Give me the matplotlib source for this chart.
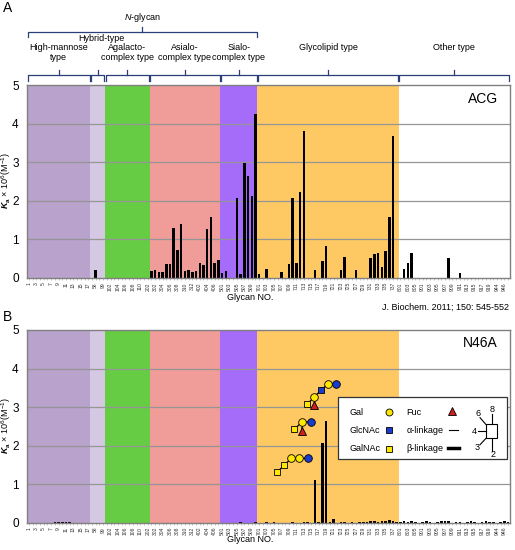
import numpy as np
import matplotlib
matplotlib.use('Agg')
import matplotlib.pyplot as plt
from matplotlib import transforms
from matplotlib.patches import Rectangle

plt.rcParams['font.family'] = ['Liberation Sans', 'DejaVu Sans']
plt.rcParams['mathtext.fontset'] = 'custom'
plt.rcParams['mathtext.rm'] = 'Liberation Sans'
plt.rcParams['mathtext.it'] = 'Liberation Sans:italic'
plt.rcParams['mathtext.bf'] = 'Liberation Sans:bold'
plt.rcParams['mathtext.bfit'] = 'Liberation Sans:bold:italic'

W, H = 515, 550

# glycan numbers per group
hm_ids = list(range(1, 18))
hybrid_ids = [57, 58, 98, 99]
agal_ids = list(range(101, 111)) + [201, 202]
asialo_ids = list(range(301, 313)) + list(range(401, 408))
sialo_ids = list(range(501, 511))
glyco_ids = list(range(701, 739))
other_ids = list(range(801, 807)) + list(range(901, 921)) + list(range(944, 948))

REGION_NAMES = ['High-mannose\ntype', 'Hybrid-type', 'Agalacto-\ncomplex type',
                'Asialo-\ncomplex type', 'Sialo-\ncomplex type', 'Glycolipid type', 'Other type']
REGION_COLORS = ['#b9a2cb', '#d5c8e2', '#66cc44', '#f09c98', '#a46cf8', '#fec963', '#ffffff']

# Ka x 10^6 (M^-1), ACG
acg_hm = [0] * 17
acg_hybrid = [0, 0.20, 0, 0]
acg_agal = [0] * 12
acg_asialo = [0.18, 0.20, 0.16, 0.16, 0.36, 0.36, 1.30, 0.73, 1.39, 0.17,
              0.20, 0.16, 0.17, 0.39, 0.33, 1.28, 1.58, 0.39, 0.46]
acg_sialo = [0.14, 0.17, 0, 0, 2.08, 0.10, 2.98, 2.65, 2.13, 4.26]
acg_glyco = [0.10, 0, 0.23, 0, 0, 0, 0.16, 0, 0.35, 2.08,
             0.40, 2.22, 3.80, 0, 0, 0.20, 0, 0.45, 0.82, 0,
             0, 0, 0.20, 0.54, 0, 0, 0.22, 0, 0, 0,
             0.52, 0.62, 0.66, 0.28, 0.70, 1.59, 3.67, 0]
acg_other = [0, 0.23, 0.38, 0.66, 0, 0, 0, 0, 0, 0,
             0, 0, 0, 0.51, 0, 0, 0.12, 0, 0, 0,
             0, 0, 0, 0, 0, 0, 0, 0, 0, 0]

# N46A
n46_hm = [0, 0, 0, 0, 0, 0, 0, 0.03, 0.03, 0.02, 0.03, 0.02, 0, 0, 0, 0, 0]
n46_hybrid = [0, 0, 0, 0]
n46_agal = [0] * 12
n46_asialo = [0] * 19
n46_sialo = [0, 0, 0, 0, 0, 0.02, 0, 0, 0, 0.02]
n46_glyco = [0, 0, 0.03, 0, 0.03, 0, 0, 0, 0, 0.03,
             0, 0, 0.03, 0.03, 0, 1.10, 0.03, 2.06, 2.63, 0.03,
             0.10, 0, 0.03, 0.03, 0, 0.03, 0, 0.03, 0.03, 0.03,
             0.04, 0.04, 0.03, 0.05, 0.04, 0.06, 0.04, 0.03]
n46_other = [0.03, 0.04, 0.03, 0.05, 0.03, 0, 0.03, 0.04, 0.03, 0,
             0.03, 0.04, 0.05, 0.04, 0, 0.03, 0.03, 0, 0.03, 0.04,
             0.03, 0, 0.03, 0.04, 0.03, 0.03, 0, 0.03, 0.04, 0.03]

groups_ids = [hm_ids, hybrid_ids, agal_ids, asialo_ids, sialo_ids, glyco_ids, other_ids]
glycan_ids = sum(groups_ids, [])
acg = np.array(acg_hm + acg_hybrid + acg_agal + acg_asialo + acg_sialo + acg_glyco + acg_other)
n46a = np.array(n46_hm + n46_hybrid + n46_agal + n46_asialo + n46_sialo + n46_glyco + n46_other)
N = len(glycan_ids)
bounds = np.concatenate([[0], np.cumsum([len(g) for g in groups_ids])]) - 0.5

fig = plt.figure(figsize=(W / 100, H / 100), dpi=100)


def fy(py):
    return 1 - py / H


def fx(px):
    return px / W


def draw_panel(ax, values, name):
    for i in range(len(REGION_COLORS)):
        ax.axvspan(bounds[i], bounds[i + 1], color=REGION_COLORS[i], lw=0, zorder=0)
    for yv in [1, 2, 3, 4]:
        ax.axhline(yv, color='#959595', lw=0.9, zorder=1)
    x = np.arange(N)
    ax.bar(x, values, width=0.68, color='black', zorder=2)
    ax.set_xlim(-0.5, N - 0.5)
    ax.set_ylim(0, 5)
    ax.set_yticks(range(6))
    ax.tick_params(axis='y', length=0, labelsize=8.5, pad=6)
    ax.set_xticks(x)
    ax.set_xticklabels([str(g) if i % 2 == 0 else '' for i, g in enumerate(glycan_ids)],
                       rotation=90, fontsize=3.6, color='#333333')
    ax.tick_params(axis='x', length=1.5, width=0.4, color='#999999', pad=1.5)
    for s in ax.spines.values():
        s.set_color('#808080')
        s.set_linewidth(1.0)
    ax.text(0.975, 0.93, name, transform=ax.transAxes, ha='right', va='center', fontsize=10)


ax_a = fig.add_axes([fx(27), fy(278), fx(483), (278 - 85) / H])
ax_b = fig.add_axes([fx(27), fy(522.7), fx(483), (522.7 - 330) / H])
draw_panel(ax_a, acg, 'ACG')
draw_panel(ax_b, n46a, 'N46A')

ylab = r'$\mathbfit{K}_\mathbf{a}$ × 10$^{6}$(M$^{-1}$)'
fig.text(fx(6), fy(181), ylab, rotation=90, ha='center', va='center', fontsize=6.5)
fig.text(fx(6), fy(426), ylab, rotation=90, ha='center', va='center', fontsize=6.5)
fig.text(fx(250), fy(298), 'Glycan NO.', ha='center', va='center', fontsize=6.5)
fig.text(fx(250), fy(539), 'Glycan NO.', ha='center', va='center', fontsize=6.5)
fig.text(fx(445), fy(307), 'J. Biochem. 2011; 150: 545-552', ha='center', va='center', fontsize=6.5)
fig.text(fx(8), fy(8), 'A', ha='center', va='center', fontsize=10)
fig.text(fx(8), fy(317), 'B', ha='center', va='center', fontsize=10)

# brackets over panel A
bt = transforms.blended_transform_factory(ax_a.transData, fig.transFigure)
bc = '#2a3f7a'


def bracket(x0, x1, y_line, y_end, y_tick, xt=None):
    xm = (x0 + x1) / 2 if xt is None else xt
    ax_a.plot([x0, x0, x1, x1], [fy(y_end), fy(y_line), fy(y_line), fy(y_end)],
              color=bc, lw=0.9, transform=bt, clip_on=False)
    ax_a.plot([xm, xm], [fy(y_line), fy(y_tick)], color=bc, lw=0.9, transform=bt, clip_on=False)


for i, name in enumerate(REGION_NAMES):
    x0, x1 = bounds[i] + 0.15, bounds[i + 1] - 0.15
    bracket(x0, x1, 75, 81, 69.5)
    xm = (x0 + x1) / 2
    if name == 'Hybrid-type':
        ax_a.text(xm + 1, fy(34), name, transform=bt, ha='center', va='top', fontsize=6.5)
    else:
        ax_a.text(xm, fy(43), name, transform=bt, ha='center', va='top', fontsize=6.5,
                  linespacing=1.2)
bracket(bounds[0] + 0.15, bounds[5] - 0.15, 32, 37, 27)
ax_a.text((bounds[0] + bounds[5]) / 2, fy(17), r'$N$-glycan', transform=bt,
          ha='center', va='center', fontsize=6.5)

# glycan structure icons in panel B (axes fraction)
tb = ax_b.transAxes
YEL, BLU, RED = '#ffe800', '#1a3ccc', '#cc1f1f'
icons = [
    [('s', YEL, 0.517, 0.261), ('s', YEL, 0.533, 0.299), ('o', YEL, 0.547, 0.334),
     ('o', YEL, 0.564, 0.334), ('o', BLU, 0.582, 0.334)],
    [('s', YEL, 0.553, 0.485), ('o', YEL, 0.570, 0.523), ('o', BLU, 0.587, 0.523)],
    [('s', YEL, 0.580, 0.615), ('o', YEL, 0.595, 0.653), ('s', BLU, 0.609, 0.688),
     ('o', YEL, 0.624, 0.722), ('o', BLU, 0.640, 0.722)],
]
fucs = [None, (1, 0.569, 0.477), (1, 0.595, 0.610)]
for chain, fuc in zip(icons, fucs):
    xs = [c[2] for c in chain]
    ys = [c[3] for c in chain]
    ax_b.plot(xs, ys, color='black', lw=0.9, transform=tb, zorder=5, clip_on=False)
    if fuc is not None:
        j, tx, ty = fuc
        ax_b.plot([chain[j][2], tx], [chain[j][3], ty], color='black', lw=0.9, transform=tb, zorder=5)
        ax_b.plot(tx, ty, marker='^', ms=5.5, mfc=RED, mec='black', mew=0.6, transform=tb, zorder=6)
    for m, c, x, y in chain:
        ax_b.plot(x, y, marker=m, ms=5 if m == 's' else 5.5, mfc=c, mec='black', mew=0.6,
                  transform=tb, zorder=6)

# legend box
ax_b.add_patch(Rectangle((0.644, 0.330), 0.350, 0.321, transform=tb, facecolor='white',
                         edgecolor='#333333', lw=0.9, zorder=7))
leg_rows = [('Gal', 'o', YEL, 'Fuc', 0.574), ('GlcNAc', 's', BLU, 'α-linkage', 0.480),
            ('GalNAc', 's', YEL, 'β-linkage', 0.383)]
for lab, m, c, lab2, y in leg_rows:
    ax_b.text(0.667, y, lab, transform=tb, ha='left', va='center', fontsize=6.5, zorder=8)
    ax_b.plot(0.749, y, marker=m, ms=5, mfc=c, mec='black', mew=0.6, transform=tb, zorder=8)
    ax_b.text(0.786, y, lab2, transform=tb, ha='left', va='center', fontsize=6.5, zorder=8)
ax_b.plot(0.879, 0.579, marker='^', ms=5.5, mfc=RED, mec='black', mew=0.6, transform=tb, zorder=8)
ax_b.plot([0.874, 0.892], [0.480, 0.480], color='black', lw=0.8, transform=tb, zorder=8)
ax_b.plot([0.872, 0.894], [0.387, 0.387], color='black', lw=2.5, transform=tb, zorder=8)

# linkage position diagram
sx0, sx1, sy0, sy1 = 0.950, 0.974, 0.437, 0.510
ax_b.add_patch(Rectangle((sx0, sy0), sx1 - sx0, sy1 - sy0, transform=tb, facecolor='white',
                         edgecolor='black', lw=0.8, zorder=8))
sxm, sym = (sx0 + sx1) / 2, (sy0 + sy1) / 2
link_lines = [([sx0, 0.938], [sy1, 0.545]), ([sxm, sxm], [sy1, 0.565]),
              ([sx0, 0.934], [sym, sym]), ([sx0, 0.938], [sy0, 0.405]), ([sxm, sxm], [sy0, 0.370])]
for lx, ly in link_lines:
    ax_b.plot(lx, ly, color='black', lw=0.8, transform=tb, zorder=8)
for t, x, y in [('6', 0.933, 0.565), ('8', 0.964, 0.585), ('4', 0.926, 0.474),
                ('3', 0.933, 0.388), ('2', 0.964, 0.352)]:
    ax_b.text(x, y, t, transform=tb, ha='center', va='center', fontsize=6.5, zorder=8)

fig.savefig('out.png', dpi=100)
